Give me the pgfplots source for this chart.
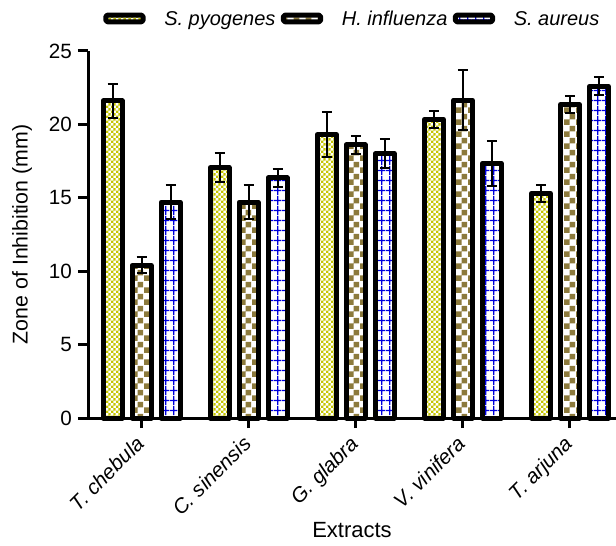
\documentclass[border=0pt]{standalone}
\usepackage{fontspec}
\setmainfont{Liberation Sans}
\usepackage{pgfplots}
\pgfplotsset{compat=1.18}
\usetikzlibrary{patterns}
\definecolor{ycol}{HTML}{C4C400}
\definecolor{bcol}{HTML}{8C7A3C}
\definecolor{gcol}{HTML}{0000DD}
\pgfdeclarepatternformonly{finecheck}{\pgfqpoint{0pt}{0pt}}{\pgfqpoint{4pt}{4pt}}{\pgfqpoint{4pt}{4pt}}{%
 \pgfpathrectangle{\pgfqpoint{0pt}{0pt}}{\pgfqpoint{2pt}{2pt}}%
 \pgfpathrectangle{\pgfqpoint{2pt}{2pt}}{\pgfqpoint{2pt}{2pt}}%
 \pgfusepath{fill}}
\pgfdeclarepatternformonly{bigcheck}{\pgfqpoint{0pt}{0pt}}{\pgfqpoint{9pt}{9pt}}{\pgfqpoint{9pt}{9pt}}{%
 \pgfpathrectangle{\pgfqpoint{0pt}{0pt}}{\pgfqpoint{4.5pt}{4.5pt}}%
 \pgfpathrectangle{\pgfqpoint{4.5pt}{4.5pt}}{\pgfqpoint{4.5pt}{4.5pt}}%
 \pgfusepath{fill}}
\pgfdeclarepatternformonly{bluegrid}{\pgfqpoint{0pt}{0pt}}{\pgfqpoint{5.8pt}{7.5pt}}{\pgfqpoint{5.8pt}{7.5pt}}{%
 \pgfsetlinewidth{1pt}%
 \pgfpathmoveto{\pgfqpoint{0pt}{3.75pt}}\pgfpathlineto{\pgfqpoint{5.8pt}{3.75pt}}%
 \pgfpathmoveto{\pgfqpoint{2.9pt}{0pt}}\pgfpathlineto{\pgfqpoint{2.9pt}{7.5pt}}%
 \pgfusepath{stroke}}
\pgfplotsset{mylegend/.style={legend image code/.code={%
  \draw[##1, line width=3.75pt, rounded corners=1.2pt] (0pt,-1.6pt) rectangle (28pt,3.4pt);}}}

\pgfplotstableread{
x  sp   spe  hi   hie  sa   sae
0  21.6 1.15 10.4 0.55 14.7 1.15
1  17.05 1.0 14.7 1.15 16.35 0.6
2  19.3 1.53 18.6 0.6  18.0 1.0
3  20.35 0.58 21.65 2.05 17.35 1.55
4  15.3 0.57 21.35 0.58 22.6 0.6
}\datatable

\begin{document}
\begin{tikzpicture}
\begin{axis}[
  name=ax,
  scale only axis,
  width=396pt, height=275.25pt,
  xmin=-0.5, xmax=4.43,
  ymin=0, ymax=25,
  ytick={0,5,10,15,20,25},
  xtick={0,1,2,3,4},
  xticklabels={T. chebula, C. sinensis, G. glabra, V. vinifera, T. arjuna},
  axis x line*=bottom, axis y line*=left,
  axis line style={line width=2.25pt, -},
  tick style={line width=2.25pt, black},
  major tick length=7.5pt,
  tick align=outside,
  /pgf/number format/assume math mode=true,
  ticklabel style={font=\fontsize{15.5}{17}\selectfont},
  xticklabel style={shift={(-5pt,0pt)}, rotate=45, anchor=north east, font=\fontsize{15.5}{17}\selectfont\itshape},
  yticklabel style={xshift=-1pt},
  xlabel={Extracts},
  ylabel={Zone of Inhibition (mm)},
  xlabel style={at={(axis description cs:0.5,0)}, anchor=center, yshift=-84pt, font=\fontsize{16.5}{18}\selectfont},
  ylabel style={at={(axis description cs:-0.125,0.5)}, anchor=center, font=\fontsize{16}{18}\selectfont},
  ybar,
  bar width=14.25pt,
  every axis plot post/.append style={mylegend},
  legend columns=3,
  legend style={draw=none, fill=none, at={(0.5,1)}, anchor=center, yshift=23.5pt,
    font=\fontsize{15}{17}\selectfont\itshape,
    /tikz/every odd column/.append style={column sep=13pt},
    /tikz/every even column/.append style={column sep=3pt},
    nodes={inner sep=1pt}},
  clip=false,
]
\addplot[draw=black, line width=3.75pt, line join=round, pattern=finecheck, pattern color=ycol, bar shift=-21.75pt,
  error bars/.cd, y dir=both, y explicit, error bar style={line width=1.5pt, black}, error mark options={rotate=90, mark size=3.75pt, line width=1.5pt, black}]
  table[x=x, y=sp, y error=spe] {\datatable};
\addlegendentry{S. pyogenes}
\addplot[draw=black, line width=3.75pt, line join=round, pattern=bigcheck, pattern color=bcol, bar shift=0pt,
  error bars/.cd, y dir=both, y explicit, error bar style={line width=1.5pt, black}, error mark options={rotate=90, mark size=3.75pt, line width=1.5pt, black}]
  table[x=x, y=hi, y error=hie] {\datatable};
\addlegendentry{H. influenza}
\addplot[draw=black, line width=3.75pt, line join=round, pattern=bluegrid, pattern color=gcol, bar shift=21.75pt,
  error bars/.cd, y dir=both, y explicit, error bar style={line width=1.5pt, black}, error mark options={rotate=90, mark size=3.75pt, line width=1.5pt, black}]
  table[x=x, y=sa, y error=sae] {\datatable};
\addlegendentry{S. aureus}
\end{axis}
\pgfresetboundingbox
\path[use as bounding box] (ax.south west) ++(-66pt,-95.25pt) rectangle ++(462pt,408.75pt);
\end{tikzpicture}
\end{document}
